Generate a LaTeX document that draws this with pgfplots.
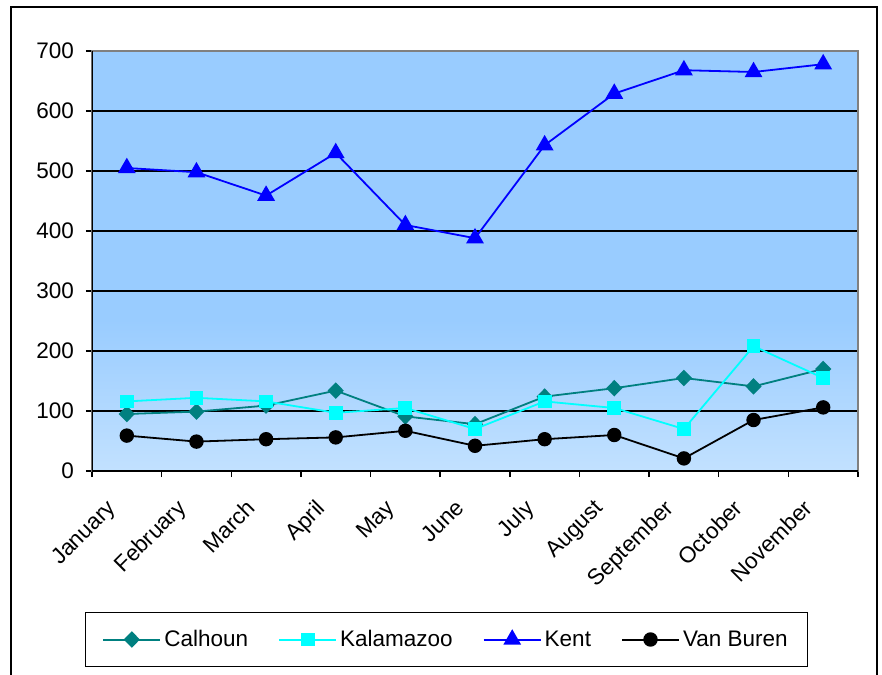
\documentclass[border=0pt]{standalone}
\usepackage{fontspec}
\setmainfont{Liberation Sans}
\usepackage{pgfplots}
\pgfplotsset{compat=1.18}
\definecolor{calhoun}{RGB}{0,128,128}
\definecolor{kalamazoo}{RGB}{0,255,255}
\definecolor{kent}{RGB}{0,0,255}
\definecolor{bgtop}{RGB}{153,204,255}
\definecolor{bgbot}{RGB}{194,225,255}
\pgfdeclareverticalshading{plotbg}{100bp}{color(0bp)=(bgbot); color(25bp)=(bgbot); color(43bp)=(bgtop); color(100bp)=(bgtop)}
\begin{document}
\begin{tikzpicture}
\begin{axis}[
  scale only axis, width=766pt, height=420pt,
  xmin=-0.5, xmax=10.5, ymin=0, ymax=700,
  axis background/.style={shading=plotbg},
  axis line style={draw=gray, line width=1.5pt},
  ytick={0,100,...,700},
  ymajorgrids, grid style={black, line width=1.6pt},
  xtick={0,...,10},
  xticklabels={January,February,March,April,May,June,July,August,September,October,November},
  minor xtick={-0.5,0.5,...,10.5},
  xtick pos=left, ytick pos=left,
  tick align=outside, major tick length=6pt, minor tick length=6pt,
  tick style={black, line width=1.5pt},
  major x tick style={draw=none},
  /pgf/number format/assume math mode=true,
  tick label style={font=\fontsize{22.5}{26}\selectfont},
  y tick label style={inner sep=0pt, xshift=-12pt},
  x tick label style={inner sep=0pt, xshift=-21pt, yshift=-21pt, rotate=45, anchor=north east},
  legend image code/.code={%
    \draw[#1, mark=none, /tikz/line width=2pt] (0pt,0pt) -- (57pt,0pt);
    \draw[#1] plot coordinates {(28.5pt,0pt)};},
  legend columns=4,
  legend style={at={(axis description cs:0.4628,-0.4012)}, anchor=center, draw=black, line width=1.5pt, fill=white,
    font=\fontsize{22.5}{26}\selectfont, inner xsep=17pt, inner ysep=16pt,
    nodes={inner xsep=3pt, inner ysep=2pt},
    /tikz/every even column/.append style={column sep=27pt}},
]
\addplot[calhoun, line width=1.8pt, mark=diamond*, mark size=7pt, mark options={solid, fill=calhoun, xscale=1.3}] coordinates {
(0,95) (1,99) (2,109) (3,134) (4,91) (5,78) (6,124) (7,138) (8,155) (9,141) (10,170)};
\addlegendentry{Calhoun}
\addplot[kalamazoo, line width=1.8pt, mark=square*, mark size=6pt, mark options={solid, fill=kalamazoo}] coordinates {
(0,116) (1,122) (2,116) (3,97) (4,105) (5,70) (6,116) (7,105) (8,70) (9,208) (10,155)};
\addlegendentry{Kalamazoo}
\addplot[kent, line width=1.8pt, mark=triangle*, mark size=8.5pt, mark options={solid, fill=kent}] coordinates {
(0,505) (1,498) (2,459) (3,530) (4,410) (5,388) (6,543) (7,629) (8,668) (9,665) (10,678)};
\addlegendentry{Kent}
\addplot[black, line width=1.8pt, mark=*, mark size=6.3pt, mark options={solid, fill=black}] coordinates {
(0,59) (1,49) (2,53) (3,56) (4,67) (5,42) (6,53) (7,60) (8,21) (9,85) (10,106)};
\addlegendentry{Van Buren}
\draw[gray, line width=1.8pt] (rel axis cs:0,1) -- (rel axis cs:1,1) -- (rel axis cs:1,0);
\draw[black, line width=1.8pt] (rel axis cs:0,1) -- (rel axis cs:0,0) -- (rel axis cs:1,0);
\coordinate (O) at (rel axis cs:0,0);
\end{axis}
\draw[line width=2pt] (O) ++(-81pt,-209pt) rectangle ++(866pt,673pt);
\pgfresetboundingbox
\path (O) ++(-92pt,-203pt) rectangle ++(882pt,674pt);
\end{tikzpicture}
\end{document}
